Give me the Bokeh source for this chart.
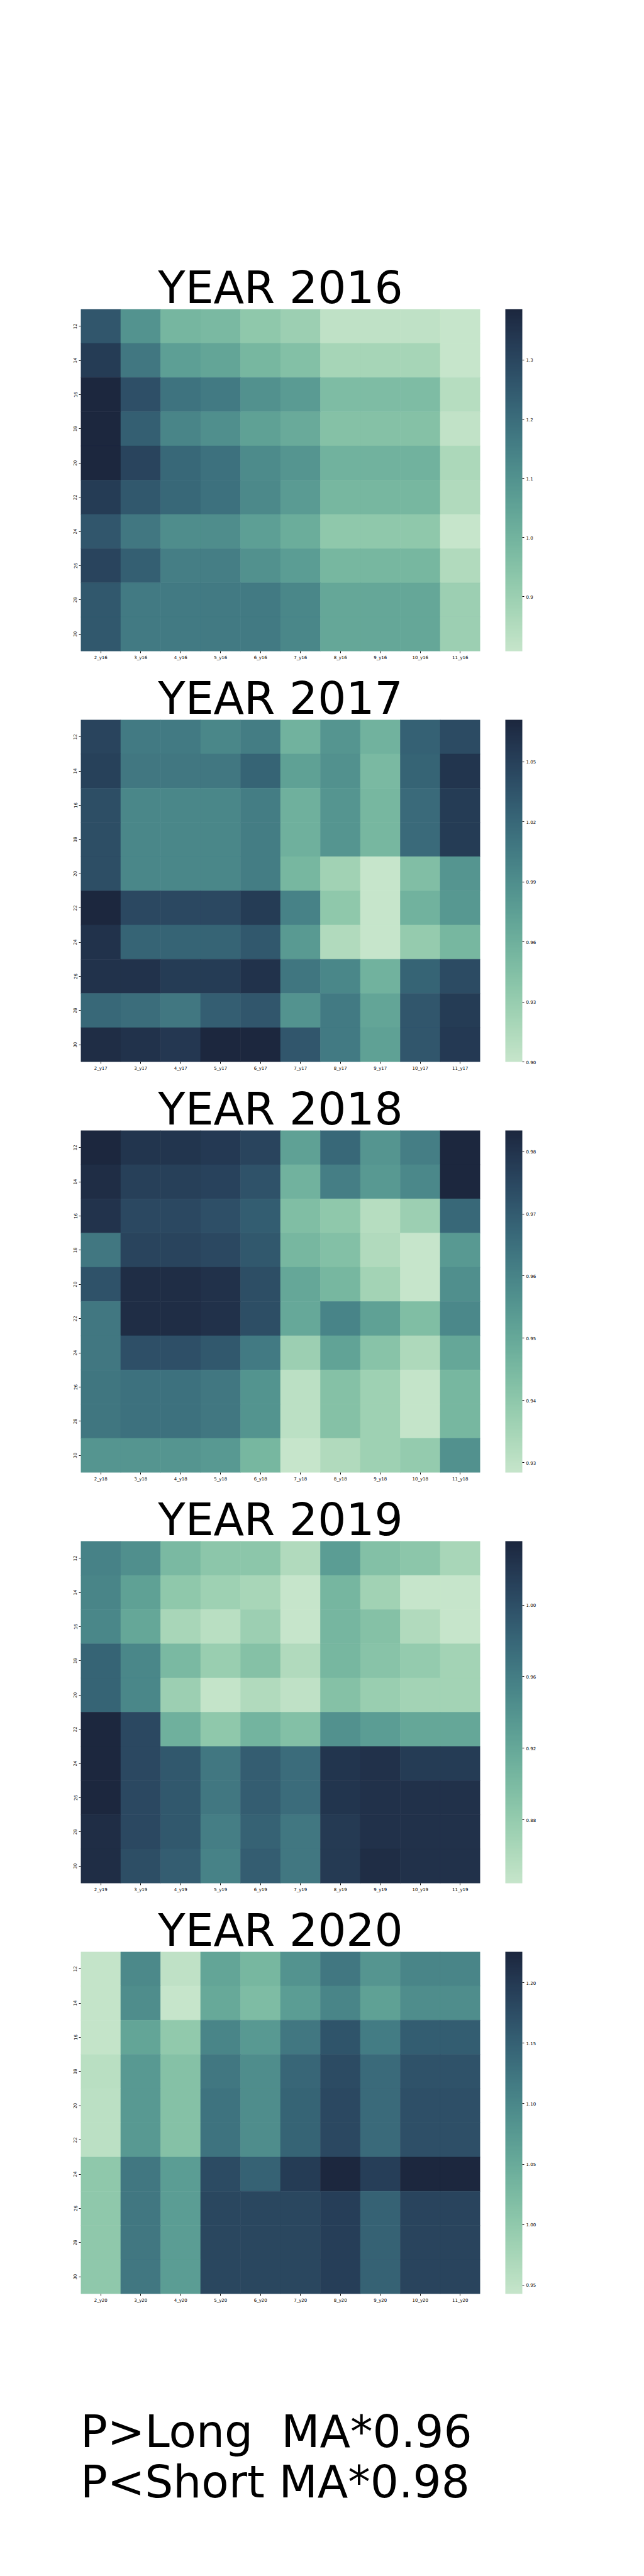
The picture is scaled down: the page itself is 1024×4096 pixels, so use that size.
import numpy as np
from bokeh.plotting import figure
from bokeh.models import (LinearColorMapper, ColorBar, FixedTicker, PrintfTickFormatter,
                          ColumnDataSource, FactorRange, Div, Spacer)
from bokeh.layouts import column, row
from bokeh.embed import file_html
from bokeh.resources import INLINE

# ---------------- data ----------------
years = ["2016", "2017", "2018", "2019", "2020"]
months = [2, 3, 4, 5, 6, 7, 8, 9, 10, 11]
row_labels = ["12", "14", "16", "18", "20", "22", "24", "26", "28", "30"]

values_2016 = [
    [1.259, 1.097, 0.993, 0.981, 0.929, 0.900, 0.825, 0.825, 0.825, 0.808],
    [1.328, 1.172, 1.062, 1.045, 0.987, 0.958, 0.877, 0.877, 0.877, 0.810],
    [1.386, 1.276, 1.184, 1.166, 1.103, 1.074, 0.970, 0.970, 0.970, 0.843],
    [1.386, 1.236, 1.137, 1.109, 1.057, 1.028, 0.953, 0.953, 0.953, 0.820],
    [1.386, 1.305, 1.213, 1.189, 1.120, 1.091, 1.005, 1.005, 1.005, 0.866],
    [1.328, 1.253, 1.213, 1.189, 1.126, 1.074, 0.987, 0.987, 0.987, 0.854],
    [1.259, 1.172, 1.114, 1.114, 1.062, 1.022, 0.929, 0.929, 0.929, 0.808],
    [1.305, 1.236, 1.155, 1.155, 1.103, 1.068, 0.987, 0.987, 0.987, 0.854],
    [1.253, 1.166, 1.166, 1.166, 1.166, 1.132, 1.039, 1.039, 1.039, 0.900],
    [1.253, 1.166, 1.166, 1.166, 1.166, 1.132, 1.039, 1.039, 1.039, 0.900],
]
values_2017 = [
    [1.047, 1.006, 1.006, 0.996, 1.003, 0.958, 0.984, 0.958, 1.025, 1.042],
    [1.050, 1.008, 1.008, 1.008, 1.023, 0.974, 0.987, 0.951, 1.023, 1.059],
    [1.040, 0.996, 0.996, 0.996, 1.003, 0.960, 0.984, 0.953, 1.018, 1.054],
    [1.040, 0.996, 0.996, 0.996, 1.003, 0.960, 0.984, 0.953, 1.018, 1.054],
    [1.040, 0.996, 0.996, 0.996, 1.003, 0.953, 0.924, 0.900, 0.946, 0.984],
    [1.071, 1.044, 1.044, 1.044, 1.054, 0.999, 0.936, 0.900, 0.958, 0.982],
    [1.062, 1.023, 1.023, 1.023, 1.032, 0.980, 0.914, 0.900, 0.932, 0.953],
    [1.062, 1.061, 1.054, 1.054, 1.062, 1.009, 0.996, 0.958, 1.023, 1.042],
    [1.020, 1.016, 1.008, 1.027, 1.033, 0.986, 1.006, 0.970, 1.033, 1.054],
    [1.066, 1.061, 1.057, 1.071, 1.071, 1.033, 1.006, 0.974, 1.033, 1.056],
]
values_2018 = [
    [0.9834, 0.9796, 0.9796, 0.9785, 0.9757, 0.9521, 0.9669, 0.9554, 0.9614, 0.9834],
    [0.9818, 0.9768, 0.9768, 0.9763, 0.9724, 0.9471, 0.9614, 0.9543, 0.9587, 0.9834],
    [0.9801, 0.9746, 0.9746, 0.9730, 0.9697, 0.9433, 0.9400, 0.9317, 0.9372, 0.9669],
    [0.9631, 0.9757, 0.9757, 0.9746, 0.9708, 0.9455, 0.9427, 0.9328, 0.9284, 0.9543],
    [0.9724, 0.9818, 0.9818, 0.9807, 0.9735, 0.9504, 0.9455, 0.9356, 0.9284, 0.9570],
    [0.9631, 0.9818, 0.9818, 0.9807, 0.9735, 0.9499, 0.9598, 0.9521, 0.9433, 0.9587],
    [0.9631, 0.9730, 0.9730, 0.9708, 0.9625, 0.9372, 0.9515, 0.9416, 0.9334, 0.9504],
    [0.9636, 0.9647, 0.9647, 0.9631, 0.9559, 0.9306, 0.9422, 0.9367, 0.9290, 0.9455],
    [0.9636, 0.9647, 0.9647, 0.9631, 0.9559, 0.9306, 0.9422, 0.9367, 0.9290, 0.9455],
    [0.9554, 0.9554, 0.9554, 0.9543, 0.9455, 0.9284, 0.9328, 0.9367, 0.9389, 0.9565],
]
values_2019 = [
    [0.9554, 0.9440, 0.9019, 0.8866, 0.8866, 0.8599, 0.9306, 0.8943, 0.8866, 0.8656],
    [0.9535, 0.9268, 0.8847, 0.8733, 0.8656, 0.8446, 0.9058, 0.8714, 0.8446, 0.8446],
    [0.9516, 0.9210, 0.8656, 0.8542, 0.8752, 0.8446, 0.9058, 0.8924, 0.8599, 0.8446],
    [0.9822, 0.9516, 0.9019, 0.8771, 0.8924, 0.8599, 0.9038, 0.8905, 0.8809, 0.8694],
    [0.9822, 0.9516, 0.8752, 0.8465, 0.8599, 0.8503, 0.8924, 0.8771, 0.8694, 0.8694],
    [1.0357, 1.0051, 0.9115, 0.8847, 0.9077, 0.8943, 0.9421, 0.9306, 0.9210, 0.9210],
    [1.0357, 1.0051, 0.9917, 0.9650, 0.9879, 0.9745, 1.0223, 1.0261, 1.0166, 1.0166],
    [1.0357, 1.0051, 0.9917, 0.9650, 0.9879, 0.9745, 1.0223, 1.0261, 1.0261, 1.0261],
    [1.0300, 1.0051, 0.9917, 0.9593, 0.9841, 0.9650, 1.0185, 1.0261, 1.0261, 1.0261],
    [1.0300, 1.0013, 0.9879, 0.9554, 0.9879, 0.9650, 1.0185, 1.0300, 1.0261, 1.0261],
]
values_2020 = [
    [0.9455, 1.0982, 0.9512, 1.0586, 1.0304, 1.0841, 1.1209, 1.0813, 1.1039, 1.1039],
    [0.9455, 1.0926, 0.9427, 1.0530, 1.0219, 1.0700, 1.1039, 1.0643, 1.0926, 1.0926],
    [0.9455, 1.0586, 0.9993, 1.1039, 1.0756, 1.1209, 1.1661, 1.1152, 1.1548, 1.1548],
    [0.9568, 1.0756, 1.0134, 1.1209, 1.0926, 1.1435, 1.1774, 1.1378, 1.1689, 1.1689],
    [0.9540, 1.0756, 1.0134, 1.1265, 1.0926, 1.1463, 1.1803, 1.1378, 1.1718, 1.1718],
    [0.9540, 1.0756, 1.0134, 1.1265, 1.0926, 1.1463, 1.1803, 1.1378, 1.1718, 1.1718],
    [1.0021, 1.1209, 1.0700, 1.1774, 1.1491, 1.1972, 1.2255, 1.1944, 1.2255, 1.2255],
    [1.0021, 1.1209, 1.0700, 1.1831, 1.1831, 1.1831, 1.1944, 1.1491, 1.1859, 1.1859],
    [1.0021, 1.1209, 1.0700, 1.1831, 1.1831, 1.1831, 1.1944, 1.1491, 1.1859, 1.1859],
    [1.0021, 1.1209, 1.0700, 1.1831, 1.1831, 1.1831, 1.1944, 1.1491, 1.1859, 1.1859],
]
all_values = [values_2016, values_2017, values_2018, values_2019, values_2020]

cbar_ticks_2016 = [0.9, 1.0, 1.1, 1.2, 1.3]
cbar_ticks_2017 = [0.90, 0.93, 0.96, 0.99, 1.02, 1.05]
cbar_ticks_2018 = [0.93, 0.94, 0.95, 0.96, 0.97, 0.98]
cbar_ticks_2019 = [0.88, 0.92, 0.96, 1.00]
cbar_ticks_2020 = [0.95, 1.00, 1.05, 1.10, 1.15, 1.20]
all_ticks = [cbar_ticks_2016, cbar_ticks_2017, cbar_ticks_2018, cbar_ticks_2019, cbar_ticks_2020]
cbar_formats = ["%.1f", "%.2f", "%.2f", "%.2f", "%.2f"]

footer_text = "P>Long  MA*0.96\nP<Short MA*0.98"

# ---------------- colormap (cubehelix start=0, rot=-0.4) ----------------
def cubehelix_hex(n=256, start=0.0, rot=-0.4, gamma=1.0, hue=0.8, light=0.85, dark=0.15):
    x = np.linspace(light, dark, n)
    xg = x ** gamma
    a = hue * xg * (1 - xg) / 2
    phi = 2 * np.pi * (start / 3 + rot * x)
    r = xg + a * (-0.14861 * np.cos(phi) + 1.78277 * np.sin(phi))
    g = xg + a * (-0.29227 * np.cos(phi) - 0.90649 * np.sin(phi))
    b = xg + a * (1.97294 * np.cos(phi))
    rgb = np.clip(np.stack([r, g, b], axis=1), 0, 1)
    return ["#%02x%02x%02x" % tuple(int(round(c * 255)) for c in col) for col in rgb]

palette = cubehelix_hex()
FONT = "DejaVu Sans"

def make_year(idx):
    yr = years[idx]
    vals = all_values[idx]
    xlabels = [f"{m}_y{yr[2:]}" for m in months]
    xs, ys, vs = [], [], []
    for ri, rl in enumerate(row_labels):
        for ci, xl in enumerate(xlabels):
            xs.append(xl)
            ys.append(rl)
            vs.append(vals[ri][ci])
    src = ColumnDataSource(dict(x=xs, y=ys, v=vs))
    flat = [v for r in vals for v in r]
    mapper = LinearColorMapper(palette=palette, low=min(flat), high=max(flat))
    p = figure(width=1010, height=653, x_range=FactorRange(*xlabels),
               y_range=FactorRange(*row_labels[::-1]),
               output_backend="svg", toolbar_location=None,
               min_border_left=128, min_border_right=247,
               min_border_top=88, min_border_bottom=21)
    p.rect(x="x", y="y", width=1, height=1, source=src,
           fill_color={"field": "v", "transform": mapper},
           line_color={"field": "v", "transform": mapper}, line_width=0.6)
    p.title.text = "YEAR " + yr
    p.title.align = "center"
    p.title.text_font = FONT
    p.title.text_font_size = "71px"
    p.title.text_font_style = "normal"
    p.title.text_color = "black"
    p.title.standoff = -15
    p.grid.grid_line_color = None
    p.outline_line_color = None
    p.axis.axis_line_color = None
    p.axis.major_tick_in = 0
    p.axis.major_tick_out = 3
    p.axis.minor_tick_line_color = None
    p.axis.major_label_standoff = 3
    p.axis.major_label_text_font = FONT
    p.axis.major_label_text_font_size = "7px"
    p.axis.major_label_text_color = "black"
    p.yaxis.major_label_orientation = "vertical"
    cb = ColorBar(color_mapper=mapper, ticker=FixedTicker(ticks=all_ticks[idx]),
                  formatter=PrintfTickFormatter(format=cbar_formats[idx]),
                  width=27, height=544, padding=0, margin=0, location=(675, 0),
                  major_label_text_font=FONT, major_label_text_font_size="7px",
                  major_label_text_color="black",
                  major_tick_in=0, major_tick_out=3, major_tick_line_color="black",
                  minor_tick_line_color=None, bar_line_color=None,
                  border_line_color=None, label_standoff=3,
                  background_fill_color=None)
    p.add_layout(cb, "center")
    return p

figs = [make_year(i) for i in range(len(years))]

footer = Div(text=footer_text, render_as_text=True, width=860, height=160,
             styles={"white-space": "pre", "font-family": FONT, "font-size": "71px",
                     "line-height": "80px", "color": "black", "margin": "0"})

layout = column(Spacer(height=403), *figs, Spacer(height=159),
                row(Spacer(width=128), footer))

with open("out.html", "w") as f:
    f.write(file_html(layout, INLINE))
